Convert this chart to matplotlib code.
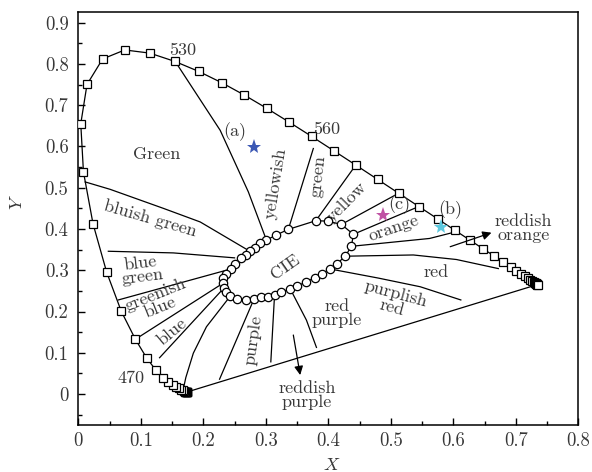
import matplotlib
matplotlib.use("Agg")
import matplotlib.pyplot as plt
from matplotlib.ticker import MultipleLocator

plt.rcParams['font.family'] = ['cmr10', 'DejaVu Serif']
plt.rcParams['mathtext.fontset'] = 'cm'
plt.rcParams['axes.formatter.use_mathtext'] = True

# Spectral locus (CIE 1931), 380-700 nm every 5 nm
locus_x = [0.1741, 0.1740, 0.1738, 0.1736, 0.1733, 0.1730, 0.1726, 0.1721, 0.1714, 0.1703,
           0.1689, 0.1669, 0.1644, 0.1611, 0.1566, 0.1510, 0.1440, 0.1355, 0.1241, 0.1096,
           0.0913, 0.0687, 0.0454, 0.0235, 0.0082, 0.0039, 0.0139, 0.0389, 0.0743, 0.1142,
           0.1547, 0.1929, 0.2296, 0.2658, 0.3016, 0.3373, 0.3731, 0.4087, 0.4441, 0.4788,
           0.5125, 0.5448, 0.5752, 0.6029, 0.6270, 0.6482, 0.6658, 0.6801, 0.6915, 0.7006,
           0.7079, 0.7140, 0.7190, 0.7230, 0.7260, 0.7283, 0.7300, 0.7311, 0.7320, 0.7327,
           0.7334, 0.7340, 0.7344, 0.7346, 0.7347]
locus_y = [0.0050, 0.0050, 0.0049, 0.0049, 0.0048, 0.0048, 0.0048, 0.0048, 0.0051, 0.0058,
           0.0069, 0.0086, 0.0109, 0.0138, 0.0177, 0.0227, 0.0297, 0.0399, 0.0578, 0.0868,
           0.1327, 0.2007, 0.2950, 0.4127, 0.5384, 0.6548, 0.7502, 0.8120, 0.8338, 0.8262,
           0.8059, 0.7816, 0.7543, 0.7243, 0.6923, 0.6589, 0.6245, 0.5896, 0.5547, 0.5202,
           0.4866, 0.4544, 0.4242, 0.3965, 0.3725, 0.3514, 0.3340, 0.3197, 0.3083, 0.2993,
           0.2920, 0.2859, 0.2809, 0.2770, 0.2740, 0.2717, 0.2700, 0.2689, 0.2680, 0.2673,
           0.2666, 0.2660, 0.2656, 0.2654, 0.2653]

# CIE white region (circles)
cie_x = [0.336, 0.316, 0.301, 0.291, 0.283, 0.275, 0.268, 0.260, 0.251, 0.244, 0.236, 0.232,
         0.231, 0.233, 0.236, 0.243, 0.254, 0.268, 0.281, 0.293, 0.304, 0.314, 0.325, 0.339,
         0.350, 0.364, 0.378, 0.390, 0.403, 0.414, 0.427, 0.437, 0.440, 0.421, 0.399, 0.380]
cie_y = [0.399, 0.385, 0.373, 0.365, 0.355, 0.347, 0.338, 0.329, 0.316, 0.303, 0.291, 0.280,
         0.268, 0.257, 0.247, 0.237, 0.231, 0.228, 0.230, 0.234, 0.236, 0.241, 0.247, 0.255,
         0.262, 0.271, 0.282, 0.292, 0.303, 0.316, 0.334, 0.358, 0.387, 0.411, 0.419, 0.420]

# Region boundaries
b_green_ygreen = ([0.155, 0.227, 0.272, 0.301], [0.806, 0.639, 0.490, 0.373])
b_ygreen_green = ([0.376, 0.336], [0.595, 0.399])
b_green_yellow = ([0.444, 0.380], [0.555, 0.420])
b_yellow_c = ([0.5125, 0.421], [0.4866, 0.411])
b_c_orange = ([0.5448, 0.440], [0.4544, 0.387])
b_orange_rorange = ([0.437, 0.562, 0.601], [0.358, 0.377, 0.392])
b_rorange_red = ([0.427, 0.536, 0.605, 0.672], [0.334, 0.337, 0.326, 0.304])
b_red_pred = ([0.403, 0.480, 0.547, 0.612], [0.303, 0.281, 0.260, 0.228])
b_pred_rpurple = ([0.339, 0.365, 0.381], [0.255, 0.179, 0.113])
b_rpurple_purple = ([0.314, 0.308], [0.241, 0.078])
b_purple_left = ([0.281, 0.226], [0.230, 0.036])
b_curve = ([0.243, 0.205, 0.184, 0.172, 0.168], [0.237, 0.163, 0.099, 0.040, 0.012])
b_blue = ([0.233, 0.130], [0.257, 0.088])
b_gblue_blue = ([0.0913, 0.231], [0.1327, 0.268])
b_bgreen_gblue = ([0.064, 0.244], [0.228, 0.303])
b_bgreen_bluishg = ([0.048, 0.152, 0.250], [0.346, 0.342, 0.330])
b_bluishg_green = ([0.011, 0.051, 0.136, 0.195, 0.270], [0.514, 0.496, 0.450, 0.417, 0.350])
boundaries = [b_green_ygreen, b_ygreen_green, b_green_yellow, b_yellow_c, b_c_orange,
              b_orange_rorange, b_rorange_red, b_red_pred, b_pred_rpurple, b_rpurple_purple,
              b_purple_left, b_curve, b_blue, b_gblue_blue, b_bgreen_gblue, b_bgreen_bluishg,
              b_bluishg_green]

# Stars
star_x = [0.281, 0.581, 0.488]
star_y = [0.599, 0.405, 0.435]
star_colors = ['#3c58b4', '#5cc8de', '#c052a4']

xticks = [0, 0.1, 0.2, 0.3, 0.4, 0.5, 0.6, 0.7, 0.8]
xticklabels = ['0', '0.1', '0.2', '0.3', '0.4', '0.5', '0.6', '0.7', '0.8']
yticks = [0, 0.1, 0.2, 0.3, 0.4, 0.5, 0.6, 0.7, 0.8, 0.9]
yticklabels = ['0', '0.1', '0.2', '0.3', '0.4', '0.5', '0.6', '0.7', '0.8', '0.9']

fig = plt.figure(figsize=(5.92, 4.72), dpi=100)
ax = fig.add_axes([0.1323, 0.0996, 0.8446, 0.8743])

lw = 0.9
for bx, by in boundaries:
    ax.plot(bx, by, color='black', lw=lw, zorder=2)

# purple line
ax.plot([locus_x[0], locus_x[-1]], [locus_y[0], locus_y[-1]], color='black', lw=lw, zorder=2)
# spectral locus
ax.plot(locus_x, locus_y, color='black', lw=lw, marker='s', markersize=5.2,
        markerfacecolor='white', markeredgecolor='black', markeredgewidth=0.9, zorder=3)
# CIE region
ax.plot(cie_x + cie_x[:1], cie_y + cie_y[:1], color='black', lw=lw, zorder=3)
ax.plot(cie_x, cie_y, ls='none', marker='o', markersize=6, markerfacecolor='white',
        markeredgecolor='black', markeredgewidth=0.9, zorder=4)

for sx, sy, sc in zip(star_x, star_y, star_colors):
    ax.plot(sx, sy, marker='*', markersize=11, color=sc, markeredgewidth=0, zorder=5)

tc = '#383838'
fs = 13
def t(x, y, s, rot=0, **kw):
    ax.text(x, y, s, rotation=rot, ha='center', va='center', fontsize=fs, color=tc,
            rotation_mode='anchor', multialignment='center', linespacing=0.85, **kw)

t(0.125, 0.581, 'Green')
t(0.316, 0.51, 'yellowish', 81)
t(0.384, 0.528, 'green', 84)
t(0.430, 0.466, 'yellow', 45)
t(0.504, 0.401, 'orange', 19)
t(0.573, 0.296, 'red')
t(0.505, 0.226, 'purplish\nred', -15)
t(0.414, 0.195, 'red\npurple')
t(0.366, -0.003, 'reddish\npurple')
t(0.280, 0.131, 'purple', 82)
t(0.150, 0.151, 'blue', 40)
t(0.127, 0.226, 'greenish\nblue', 22)
t(0.101, 0.300, 'blue\ngreen', 7)
t(0.115, 0.425, 'bluish green', -16)
t(0.331, 0.308, 'CIE', 35)
t(0.712, 0.402, 'reddish\norange')
t(0.251, 0.637, '(a)')
t(0.595, 0.446, '(b)')
t(0.513, 0.458, '(c)')
t(0.167, 0.833, '530')
t(0.398, 0.641, '560')
t(0.084, 0.038, '470')

arrow = dict(arrowstyle='-|>', color='black', lw=0.9, mutation_scale=13, shrinkA=0, shrinkB=0)
ax.annotate('', xy=(0.661, 0.391), xytext=(0.595, 0.357), arrowprops=arrow, zorder=6)
ax.annotate('', xy=(0.355, 0.046), xytext=(0.344, 0.143), arrowprops=arrow, zorder=6)

ax.set_xlim(0, 0.8)
ax.set_ylim(-0.075, 0.925)
ax.set_xticks(xticks)
ax.set_xticklabels(xticklabels)
ax.set_yticks(yticks)
ax.set_yticklabels(yticklabels)
ax.xaxis.set_minor_locator(MultipleLocator(0.05))
ax.yaxis.set_minor_locator(MultipleLocator(0.05))
ax.tick_params(which='both', direction='in', top=False, right=False, labelsize=13.5,
               labelcolor=tc, width=1)
ax.tick_params(which='major', length=5)
ax.tick_params(which='minor', length=3)
ax.tick_params(axis='y', pad=7)
ax.tick_params(axis='x', pad=5)
for sp in ax.spines.values():
    sp.set_linewidth(1.1)

ax.set_xlabel('$X$', fontsize=13, color=tc, va='center')
ax.set_ylabel('$Y$', fontsize=13, color=tc, va='center')
ax.xaxis.set_label_coords(0.507, -0.097)
ax.yaxis.set_label_coords(-0.123, 0.541)

fig.savefig('out.png', dpi=100)
